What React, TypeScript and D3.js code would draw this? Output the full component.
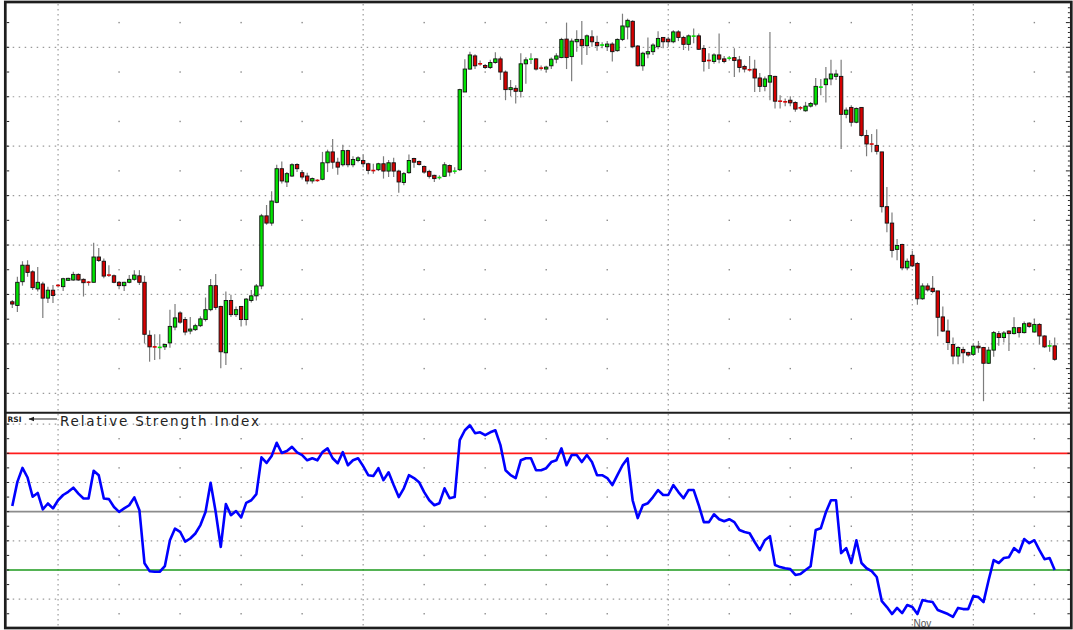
import React from "react";
import * as d3 from "d3";

// ---- Data (price units are arbitrary) ----
const openPrices = [
  142.6, 138.9, 162.9, 179.6, 172.9, 155.6, 160.6, 146.3, 154.3, 159.6,
  157.9, 164.3, 164.6, 170.3, 165.3, 162.6, 162.3, 187.9, 183.6, 170.1,
  168.9, 162.3, 158.9, 162.3, 165.3, 168.9, 162.3, 108.7, 97.2, 96.2,
  97.0, 101.0, 117.0, 131.3, 124.6, 113.0, 114.4, 118.4, 124.6, 134.6,
  158.9, 137.9, 91.0, 143.9, 129.6, 137.9, 124.6, 143.9, 148.6, 158.6,
  229.5, 222.2, 243.2, 277.2, 263.8, 269.8, 281.5, 273.2, 269.8, 264.8,
  265.5, 266.5, 283.2, 294.2, 283.8, 281.2, 295.5, 281.2, 285.5, 285.5,
  282.2, 275.5, 276.2, 282.2, 274.8, 283.2, 274.8, 263.2, 273.2, 287.5,
  284.5, 279.5, 274.5, 270.5, 268.0, 269.5, 280.5, 274.5, 276.2, 354.8,
  378.0, 391.3, 383.5, 381.6, 379.6, 384.6, 388.3, 375.0, 357.2, 358.5,
  355.5, 383.3, 387.8, 388.3, 379.3, 378.0, 381.3, 388.0, 389.6, 408.3,
  390.6, 405.6, 408.0, 401.6, 410.6, 405.0, 402.1, 400.6, 403.3, 396.6,
  408.0, 420.6, 426.3, 401.3, 381.3, 393.3, 395.6, 400.6, 410.0, 408.3,
  405.6, 415.6, 410.0, 403.0, 411.1, 411.6, 398.8, 387.0, 385.6, 392.3,
  388.3, 388.8, 389.6, 387.3, 380.6, 377.6, 378.0, 369.0, 360.5, 364.8,
  370.6, 345.8, 345.0, 346.5, 344.2, 339.0, 335.8, 340.5, 342.5, 359.5,
  362.2, 368.0, 370.6, 370.6, 332.2, 339.2, 324.2, 339.2, 310.8, 302.5,
  300.8, 294.2, 238.8, 222.2, 195.6, 200.6, 176.9, 189.6, 181.3, 145.6,
  158.6, 156.3, 153.6, 127.3, 113.0, 99.4, 87.7, 94.4, 91.4, 89.4,
  97.7, 96.4, 80.4, 93.7, 110.4, 106.4, 113.0, 110.4, 116.4, 111.4,
  121.0, 112.0, 119.7, 108.0, 97.7, 98.0,
];
const highPrices = [
  144.3, 167.9, 183.6, 184.6, 174.6, 177.9, 162.9, 157.9, 159.6, 160.6,
  166.9, 166.9, 172.9, 171.3, 166.3, 163.6, 202.3, 196.9, 186.3, 179.6,
  170.3, 163.6, 162.9, 169.6, 174.6, 174.6, 168.9, 113.7, 109.7, 109.7,
  100.4, 134.6, 140.3, 132.9, 127.3, 127.3, 120.4, 127.9, 146.9, 165.6,
  170.6, 138.6, 152.9, 149.6, 137.9, 137.9, 146.3, 154.6, 160.6, 231.5,
  240.5, 254.5, 281.2, 284.5, 273.8, 282.8, 282.8, 275.5, 273.2, 268.2,
  266.5, 294.2, 296.5, 307.2, 288.2, 301.5, 296.5, 289.8, 289.8, 291.5,
  283.2, 282.2, 283.2, 289.8, 286.0, 288.2, 276.2, 273.8, 291.5, 288.2,
  285.5, 280.5, 276.2, 271.2, 270.5, 283.8, 281.5, 278.8, 358.2, 388.0,
  395.6, 393.0, 386.6, 383.0, 387.3, 395.0, 390.6, 376.6, 367.0, 361.5,
  394.0, 390.0, 394.0, 389.0, 381.6, 381.3, 389.6, 394.0, 409.6, 425.0,
  409.0, 417.3, 426.6, 413.0, 417.3, 411.6, 405.0, 406.3, 405.0, 409.0,
  434.0, 429.0, 427.3, 402.3, 395.6, 410.0, 404.0, 416.3, 410.0, 410.6,
  417.3, 417.3, 411.6, 413.0, 419.0, 414.0, 402.3, 394.0, 394.0, 414.0,
  391.3, 391.3, 399.0, 391.3, 382.3, 391.3, 387.3, 374.0, 370.6, 415.6,
  371.3, 351.5, 348.2, 350.5, 345.5, 340.5, 344.8, 344.8, 369.0, 368.0,
  380.0, 387.3, 377.3, 387.3, 339.2, 341.5, 339.2, 339.2, 316.5, 312.2,
  317.2, 294.2, 258.8, 232.8, 206.0, 201.3, 186.3, 193.9, 182.9, 161.3,
  161.3, 168.6, 153.6, 137.9, 124.6, 106.4, 97.7, 97.0, 92.0, 100.4,
  103.0, 97.0, 97.0, 113.0, 113.0, 113.0, 113.7, 126.9, 117.0, 122.7,
  122.0, 125.3, 121.0, 108.7, 103.7, 106.4,
];
const lowPrices = [
  136.3, 132.3, 158.9, 167.9, 154.6, 152.9, 126.3, 141.3, 141.3, 157.1,
  153.6, 163.6, 163.9, 163.9, 147.9, 158.9, 162.3, 182.9, 166.3, 167.6,
  161.3, 155.3, 153.6, 161.3, 163.9, 159.6, 100.4, 82.0, 83.7, 84.4,
  93.7, 96.0, 113.7, 120.4, 108.7, 109.7, 113.0, 117.0, 122.7, 132.9,
  134.6, 75.4, 78.7, 127.3, 127.3, 117.7, 118.7, 141.9, 143.9, 155.3,
  220.5, 219.5, 242.2, 262.2, 258.8, 268.8, 273.8, 266.2, 261.5, 262.2,
  264.0, 265.5, 273.8, 277.2, 271.2, 279.5, 278.8, 278.8, 283.8, 278.8,
  271.5, 272.2, 274.8, 267.2, 268.8, 268.8, 252.8, 260.5, 272.2, 278.2,
  280.5, 272.2, 267.2, 263.8, 266.2, 268.8, 269.5, 272.2, 274.8, 354.8,
  377.3, 378.0, 381.3, 378.0, 378.0, 383.3, 367.0, 346.5, 350.5, 343.2,
  349.2, 363.2, 383.0, 376.6, 376.6, 375.0, 378.0, 384.0, 389.0, 378.0,
  365.6, 395.6, 382.3, 392.3, 400.6, 396.6, 399.0, 396.3, 385.6, 395.6,
  406.3, 408.0, 399.0, 380.6, 376.3, 389.0, 392.3, 398.0, 399.0, 400.6,
  404.0, 406.3, 397.3, 396.6, 404.0, 397.3, 375.6, 378.0, 383.3, 384.0,
  384.0, 386.6, 370.0, 374.6, 374.6, 375.6, 354.8, 354.8, 355.5, 346.5,
  338.2, 338.2, 340.5, 340.5, 334.8, 336.5, 334.8, 339.2, 340.5, 351.5,
  344.2, 361.5, 367.0, 297.2, 328.2, 319.8, 323.2, 309.8, 289.8, 293.8,
  291.5, 232.8, 212.8, 187.3, 184.6, 174.6, 174.6, 177.9, 139.6, 144.6,
  152.9, 151.3, 107.7, 112.0, 93.7, 79.4, 79.4, 80.4, 87.0, 87.7,
  91.0, 42.0, 79.7, 87.0, 98.0, 101.4, 92.7, 109.4, 106.4, 110.4,
  116.4, 111.4, 99.4, 96.0, 92.0, 83.0,
];
const closePrices = [
  140.3, 162.3, 179.6, 172.3, 156.9, 162.3, 146.3, 154.3, 148.9, 158.6,
  165.9, 166.3, 170.3, 164.6, 161.9, 162.1, 187.9, 184.3, 168.6, 169.1,
  162.3, 158.9, 162.3, 165.3, 169.6, 162.3, 109.7, 97.0, 96.7, 96.7,
  99.4, 117.7, 126.3, 122.0, 112.0, 115.0, 118.4, 125.3, 134.6, 158.9,
  136.9, 92.0, 143.9, 129.6, 134.6, 124.6, 145.3, 148.6, 158.6, 229.5,
  222.2, 244.5, 277.2, 264.8, 272.2, 281.2, 277.2, 268.8, 264.8, 267.2,
  265.2, 283.2, 294.2, 283.8, 278.8, 295.5, 281.2, 286.5, 288.2, 282.2,
  275.5, 275.2, 282.2, 274.8, 283.2, 274.8, 263.8, 272.2, 285.5, 283.8,
  281.5, 273.8, 269.5, 267.2, 268.5, 281.2, 273.8, 275.0, 357.2, 378.0,
  392.3, 381.3, 383.1, 379.6, 384.6, 388.3, 375.0, 357.2, 359.2, 355.5,
  383.3, 387.3, 388.3, 378.0, 378.6, 380.0, 388.0, 391.3, 408.0, 389.6,
  406.3, 408.0, 401.6, 411.6, 405.6, 401.6, 402.5, 403.3, 395.6, 408.0,
  421.6, 427.3, 400.6, 381.3, 394.0, 395.6, 402.3, 409.0, 405.6, 405.6,
  415.6, 410.0, 403.0, 411.6, 411.5, 398.0, 385.6, 386.3, 392.3, 388.0,
  385.6, 389.3, 386.6, 379.6, 378.0, 377.0, 369.0, 360.5, 368.0, 371.3,
  345.5, 345.2, 344.7, 343.8, 337.5, 338.5, 340.5, 343.2, 360.5, 360.0,
  368.0, 373.0, 373.0, 332.2, 336.5, 324.2, 338.2, 310.8, 302.2, 301.8,
  294.8, 238.8, 222.2, 194.6, 199.6, 176.9, 183.6, 178.9, 145.6, 158.6,
  154.6, 152.9, 126.9, 113.0, 101.4, 87.7, 96.4, 91.0, 88.7, 97.7,
  96.0, 80.4, 93.7, 111.4, 106.4, 111.0, 110.4, 116.4, 111.4, 120.4,
  117.7, 119.7, 108.0, 97.0, 98.2, 84.4,
];
const rsiValues = [
  51.9, 60.2, 65.0, 61.7, 55.1, 56.4, 50.8, 52.8, 51.1, 53.9,
  55.7, 56.8, 58.2, 56.2, 54.5, 54.5, 64.0, 62.5, 54.5, 54.3,
  51.6, 49.9, 51.1, 52.2, 54.9, 50.5, 32.3, 29.6, 29.4, 29.4,
  31.3, 40.2, 44.2, 43.1, 39.7, 40.8, 42.5, 45.4, 49.9, 59.9,
  49.9, 37.9, 52.6, 48.8, 50.2, 48.0, 53.0, 53.9, 56.0, 68.6,
  66.7, 69.1, 73.6, 70.1, 70.8, 72.2, 70.3, 69.4, 67.6, 68.3,
  67.6, 70.4, 71.7, 68.3, 66.6, 70.4, 65.9, 67.6, 68.3, 65.6,
  62.5, 62.2, 64.9, 60.8, 63.5, 59.1, 55.0, 58.0, 62.5, 61.5,
  60.1, 56.7, 53.9, 52.2, 52.9, 58.0, 54.6, 55.0, 74.5, 77.9,
  79.6, 76.9, 77.2, 76.2, 77.2, 77.9, 72.8, 64.2, 62.5, 61.5,
  67.6, 68.3, 68.3, 64.2, 64.2, 64.9, 67.0, 67.6, 71.7, 65.9,
  69.4, 69.4, 67.0, 69.4, 67.0, 62.5, 62.5, 61.5, 59.1, 62.5,
  65.9, 68.3, 53.9, 47.8, 52.2, 52.9, 55.0, 57.4, 55.7, 55.7,
  59.1, 56.7, 54.6, 57.4, 57.4, 52.2, 46.4, 46.4, 49.1, 47.4,
  46.7, 47.4, 46.4, 43.7, 43.0, 42.6, 39.6, 36.8, 40.2, 41.6,
  31.7, 31.0, 30.6, 30.3, 28.3, 28.6, 30.0, 31.3, 43.7, 44.3,
  49.8, 53.9, 53.9, 35.8, 37.5, 32.4, 40.2, 32.4, 30.6, 29.6,
  27.6, 19.3, 17.3, 14.9, 17.0, 15.2, 18.0, 17.3, 14.9, 19.7,
  19.3, 19.0, 16.3, 15.6, 14.9, 13.9, 17.0, 16.6, 16.6, 21.1,
  20.7, 19.0, 26.5, 33.4, 32.4, 34.1, 34.4, 37.5, 36.1, 40.6,
  39.2, 40.2, 36.8, 33.7, 34.1, 30.0,
];

const priceGridStep = 50;
const rsiOverbought = 70;
const rsiMiddle = 50;
const rsiOversold = 30;
const rsiGridLevels = [80, 60, 40, 20];
const periodLineIndices = [9, 69, 129, 177, 189];
const minorColumnStep = 12;
const dateLabels = [{ index: 177, label: "Nov" }];
const rsiTitle = "Relative Strength Index";
const rsiShort = "RSI";

export default function App() {
  const n = closePrices.length;
  const left = 5.3, right = 1071.3, top = 2, bottom = 628, split = 412.7;
  const innerL = left + 1.4, innerR = right - 1.4;

  const x = d3.scaleLinear().domain([0, n - 1]).range([12.3, 1054.7]);
  const yP = d3.scaleLinear().domain([31.1, 442.8]).range([412, 5]);
  const yR = d3.scaleLinear().domain([rsiOversold, rsiOverbought]).range([570, 453.3]);

  const priceMajor = d3.range(priceGridStep, 442, priceGridStep);
  const priceMinor = d3.range(priceGridStep * 1.5, 442, priceGridStep);
  const priceTicks25 = d3.range(priceGridStep, 442, priceGridStep / 2);
  const priceTicks5 = d3.range(35, 442, 5);
  const rsiMinor = d3.range(15, 80, 10);
  const rsiTicks5 = d3.range(15, 84, 5);
  const minorCols = d3.range(periodLineIndices[0], n, minorColumnStep).filter((i) => !periodLineIndices.includes(i));

  const bw = 3.4;
  const green = "#00e400";
  const red = "#d60000";

  const rsiLine = d3.line<number>().x((_, i) => x(i)).y((v) => yR(v))(rsiValues) || "";

  return (
    <div style={{ position: "absolute", left: 0, top: 0 }}>
      <style>{"body{margin:0}"}</style>
      <svg width={1073} height={630} style={{ display: "block", background: "#fff" }}>
        {/* price grid */}
        {priceMajor.map((v) => (
          <line key={"pm" + v} x1={innerL} x2={innerR} y1={yP(v)} y2={yP(v)} stroke="#9a9a9a" strokeWidth={1.2} strokeDasharray="1.5 4.5" />
        ))}
        {priceMinor.map((v) =>
          minorCols.map((i) => (
            <rect key={"pd" + v + "-" + i} x={x(i) - 0.7} y={yP(v) - 0.7} width={1.4} height={1.4} fill="#8a8a8a" />
          ))
        )}
        {/* rsi grid */}
        {rsiGridLevels.map((v) => (
          <line key={"rg" + v} x1={innerL} x2={innerR} y1={yR(v)} y2={yR(v)} stroke="#9a9a9a" strokeWidth={1.2} strokeDasharray="1.5 4.5" />
        ))}
        {rsiMinor.map((v) =>
          minorCols.map((i) => (
            <rect key={"rd" + v + "-" + i} x={x(i) - 0.7} y={yR(v) - 0.7} width={1.4} height={1.4} fill="#8a8a8a" />
          ))
        )}
        {/* vertical period lines */}
        {periodLineIndices.map((i) => (
          <line key={"vl" + i} x1={x(i)} x2={x(i)} y1={top + 2} y2={bottom - 1} stroke="#9a9a9a" strokeWidth={1.2} strokeDasharray="1.5 3.5" />
        ))}

        {/* RSI reference lines */}
        <line x1={innerL} x2={innerR} y1={yR(rsiOverbought)} y2={yR(rsiOverbought)} stroke="#ff1c1c" strokeWidth={1.7} />
        <line x1={innerL} x2={innerR} y1={yR(rsiMiddle)} y2={yR(rsiMiddle)} stroke="#8c8c8c" strokeWidth={1.7} />
        <line x1={innerL} x2={innerR} y1={yR(rsiOversold)} y2={yR(rsiOversold)} stroke="#1c9a1c" strokeWidth={1.7} />

        {/* candles */}
        {closePrices.map((c, i) => {
          const o = openPrices[i];
          const cx = x(i);
          const up = c >= o;
          const yTop = yP(Math.max(o, c));
          const yBot = yP(Math.min(o, c));
          const h = yBot - yTop;
          return (
            <g key={"c" + i}>
              <line x1={cx} x2={cx} y1={yP(highPrices[i])} y2={yP(lowPrices[i])} stroke="#7d7d7d" strokeWidth={1.2} />
              {h < 1.6 ? (
                <rect x={cx - 2} y={(yTop + yBot) / 2 - 0.8} width={4} height={1.6} fill={up ? green : red} />
              ) : (
                <rect x={cx - bw / 2} y={yTop} width={bw} height={h} fill={up ? green : red} stroke="#111" strokeWidth={0.9} />
              )}
            </g>
          );
        })}

        {/* RSI line */}
        <path d={rsiLine} fill="none" stroke="#0000ff" strokeWidth={2.6} strokeLinejoin="round" />

        {/* axis ticks */}
        {priceTicks25.map((v) => (
          <line key={"lt" + v} x1={innerL} x2={innerL + 2.5} y1={yP(v)} y2={yP(v)} stroke="#222" strokeWidth={1} />
        ))}
        {priceTicks5.map((v) => (
          <line key={"rt" + v} x1={innerR - (v % 25 === 0 ? 4 : 2)} x2={innerR} y1={yP(v)} y2={yP(v)} stroke="#222" strokeWidth={1} />
        ))}
        {rsiTicks5.map((v) => (
          <g key={"rsit" + v}>
            <line x1={innerL} x2={innerL + 2.5} y1={yR(v)} y2={yR(v)} stroke="#222" strokeWidth={1} />
            <line x1={innerR - 2.5} x2={innerR} y1={yR(v)} y2={yR(v)} stroke="#222" strokeWidth={1} />
          </g>
        ))}

        {/* date labels */}
        {dateLabels.map((d) => (
          <text key={d.label} x={x(d.index) + 1.2} y={627} fontFamily="Liberation Sans, Arial, sans-serif" fontSize={10} fill="#555">
            {d.label}
          </text>
        ))}

        {/* frame */}
        <rect x={left} y={top} width={right - left} height={bottom - top} fill="none" stroke="#1e1e1e" strokeWidth={2.7} />
        <line x1={left} x2={right} y1={split} y2={split} stroke="#1e1e1e" strokeWidth={2} />

        {/* RSI title */}
        <text x={7.5} y={422} fontFamily="DejaVu Sans, sans-serif" fontSize={7.5} fontWeight="bold" fill="#222">{rsiShort}</text>
        <line x1={29} x2={57} y1={419} y2={419} stroke="#222" strokeWidth={1} />
        <path d="M28.5,419 L34,416.8 L34,421.2 Z" fill="#222" />
        <text x={60} y={426} fontFamily="DejaVu Sans, sans-serif" fontSize={13.5} fill="#222" textLength={199} lengthAdjust="spacing">{rsiTitle}</text>
      </svg>
    </div>
  );
}
